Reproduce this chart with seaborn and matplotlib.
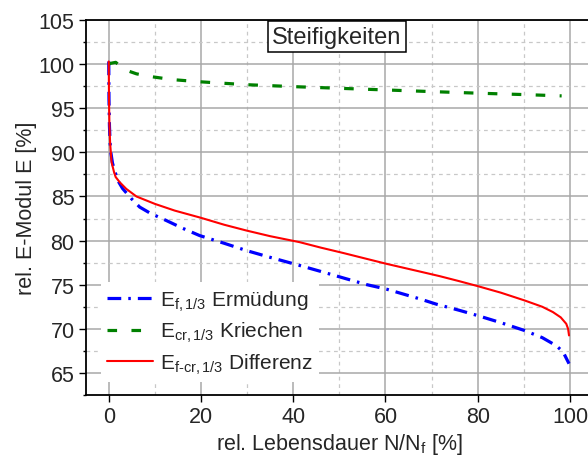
import numpy as np
import pandas as pd
import matplotlib
matplotlib.use("Agg")
import matplotlib.pyplot as plt
import seaborn as sns
from matplotlib.ticker import MultipleLocator

# ---- data ----
x_f = [0, 0.05, 0.15, 0.3, 0.45, 0.8, 1.4, 2.2, 3.0, 5, 6.7, 9, 12.5, 16, 19.7, 25, 29.85,
       35, 41.4, 46, 51.5, 56, 60.2, 67.4, 71, 76, 80, 85, 90.2, 94, 97, 98.5, 99.8]
y_f = [100.3, 96, 93, 91, 90, 88.8, 87.7, 86.6, 85.9, 84.7, 83.8, 83.1, 82.27, 81.4, 80.57,
       79.7, 78.87, 78.1, 77.18, 76.5, 75.67, 75.0, 74.5, 73.4, 72.8, 72.1, 71.5, 70.7, 69.8,
       69.0, 68.1, 67.4, 66.05]

x_c = [0, 0.5, 1.5, 2.5, 3.8, 6, 8.9, 13.9, 19.7, 29.85, 40, 50, 60.2, 70.3, 80.4, 90.5, 98.2]
y_c = [100.0, 100.1, 100.2, 99.8, 99.3, 98.9, 98.6, 98.24, 98.0, 97.67, 97.45, 97.26, 97.07,
       96.88, 96.7, 96.54, 96.4]

x_d = [0, 0.05, 0.15, 0.3, 0.45, 0.6, 1.15, 1.5, 2.4, 3.8, 6, 10, 14.3, 20, 25, 29.85, 35,
       41.4, 46, 50.8, 55, 60.2, 67.4, 71.75, 76, 80, 85, 90.2, 94, 96.3, 98, 99.2, 99.6, 99.8]
y_d = [100.3, 96, 93, 91, 90, 88.9, 87.75, 87.2, 86.6, 85.86, 85.0, 84.16, 83.4, 82.58, 81.8,
       81.14, 80.5, 79.82, 79.2, 78.6, 78.05, 77.37, 76.5, 75.97, 75.4, 74.84, 74.1, 73.21, 72.5,
       71.9, 71.3, 70.57, 70.0, 69.25]

labels = [r'$\mathrm{E}_{\mathrm{f,1/3}}$ Ermüdung',
          r'$\mathrm{E}_{\mathrm{cr,1/3}}$ Kriechen',
          r'$\mathrm{E}_{\mathrm{f\text{-}cr,1/3}}$ Differenz']
title_text = "Steifigkeiten"
xlabel = r'rel. Lebensdauer N/$\mathrm{N}_{\mathrm{f}}$ [%]'
ylabel = "rel. E-Modul E [%]"

# ---- style ----
sns.set_theme(style="white")
plt.rcParams['font.family'] = ['Liberation Sans', 'DejaVu Sans']
plt.rcParams['mathtext.fontset'] = 'custom'
plt.rcParams['mathtext.rm'] = 'Liberation Sans'
plt.rcParams['mathtext.it'] = 'Liberation Sans:italic'
plt.rcParams['mathtext.bf'] = 'Liberation Sans:bold'

fig = plt.figure(figsize=(5.88, 4.64), dpi=100)
ax = fig.add_axes([85.7 / 588, 1 - 396 / 464, (593 - 85.7) / 588, (396 - 21) / 464])

df_f = pd.DataFrame({"x": x_f, "y": y_f})
df_c = pd.DataFrame({"x": x_c, "y": y_c})
df_d = pd.DataFrame({"x": x_d, "y": y_d})

sns.lineplot(data=df_f, x="x", y="y", ax=ax, color="#0000ff", lw=2.3, sort=False,
             estimator=None, linestyle=(0, (4.3, 2.2, 0.8, 2.2)), label=labels[0], zorder=3)
sns.lineplot(data=df_c, x="x", y="y", ax=ax, color="#008000", lw=2.3, sort=False,
             estimator=None, linestyle=(0, (3.0, 4.5)), label=labels[1], zorder=3)
sns.lineplot(data=df_d, x="x", y="y", ax=ax, color="#ff0000", lw=1.5, sort=False,
             estimator=None, label=labels[2], zorder=4)

ax.set_xlim(-5, 105)
ax.set_ylim(62.5, 105)
ax.xaxis.set_major_locator(MultipleLocator(20))
ax.xaxis.set_minor_locator(MultipleLocator(10))
ax.yaxis.set_major_locator(MultipleLocator(5))
ax.yaxis.set_minor_locator(MultipleLocator(2.5))

ax.grid(which='major', color='#a8a8a8', lw=1.1, ls='-', zorder=0)
ax.grid(which='minor', color='#c8c8c8', lw=0.9, ls=(0, (3, 3)), zorder=0)
ax.set_axisbelow(True)

for s in ['left', 'bottom', 'top']:
    ax.spines[s].set_color('black')
    ax.spines[s].set_linewidth(1.3)
ax.spines['right'].set_visible(False)

ax.tick_params(which='major', direction='out', length=5, width=1, color='black',
               labelsize=15.5, pad=3, left=True, bottom=True)
ax.tick_params(which='minor', direction='out', length=2.5, width=1, color='black',
               left=True, bottom=False)

ax.set_xlabel(xlabel, fontsize=15.5, labelpad=3)
ax.set_ylabel(ylabel, fontsize=15.5, labelpad=1)

ax.text(49.5, 103.1, title_text, fontsize=17, ha='center', va='center', zorder=6,
        bbox=dict(boxstyle='square,pad=0.2', facecolor='white', edgecolor='black', lw=1.1))

leg = ax.legend(loc='lower left', bbox_to_anchor=(0.03, 0.035), fontsize=15,
                frameon=True, fancybox=False, edgecolor='none', facecolor='white',
                framealpha=1, handlelength=2.2, handletextpad=0.35, labelspacing=0.35,
                borderpad=0.3, borderaxespad=0)
leg.set_zorder(5)

fig.savefig("out.png", dpi=100)
